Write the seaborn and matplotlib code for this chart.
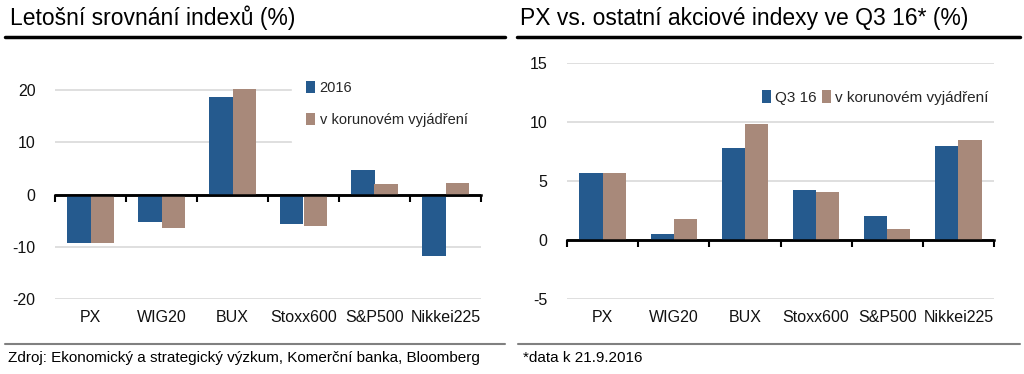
import numpy as np
import pandas as pd
import matplotlib
matplotlib.use("Agg")
import matplotlib.pyplot as plt
import seaborn as sns

# Data
indices = ["PX", "WIG20", "BUX", "Stoxx600", "S&P500", "Nikkei225"]

ytd_2016 = [-9.3, -5.3, 18.7, -5.7, 4.7, -11.7]
ytd_czk = [-9.3, -6.4, 20.2, -6.0, 2.0, 2.3]

q3_16 = [5.7, 0.5, 7.8, 4.2, 2.0, 8.0]
q3_czk = [5.7, 1.8, 9.85, 4.05, 0.97, 8.5]

left_series = ["2016", "v korunovém vyjádření"]
right_series = ["Q3 16", "v korunovém vyjádření"]

blue = "#255A8E"
brown = "#A8897A"
grid_col = "#D9D9D9"

sns.set_theme(style="white")
plt.rcParams['font.family'] = ['Liberation Sans', 'DejaVu Sans']


def long_df(a, b, names):
    return pd.DataFrame({
        "index": indices * 2,
        "value": list(a) + list(b),
        "series": [names[0]] * len(indices) + [names[1]] * len(indices),
    })


def style_axes(ax, ylim, yticks):
    ax.set_ylim(*ylim)
    ax.set_xlim(-0.5, len(indices) - 0.5)
    ax.set_yticks(yticks)
    ax.set_yticklabels([str(t) for t in yticks], fontsize=11.5, color="#111111")
    ax.tick_params(axis="x", length=0, labelsize=11.5, colors="#111111", pad=8)
    ax.tick_params(axis="y", length=0, pad=14)
    for t in yticks:
        ax.axhline(t, color=grid_col, lw=1.2, zorder=0)
    for s in ax.spines.values():
        s.set_visible(False)
    ax.set_xlabel("")
    ax.set_ylabel("")
    # zero axis with category-boundary tick marks
    ax.axhline(0, color="black", lw=1.8, zorder=5)
    frac = (0 - ylim[0]) / (ylim[1] - ylim[0])
    sec = ax.secondary_xaxis(frac)
    sec.set_xticks(np.arange(-0.5, len(indices), 1.0))
    sec.set_xticklabels([])
    sec.tick_params(axis="x", direction="out", length=5, width=1.5, color="black")
    sec.spines["bottom"].set_color("black")
    sec.spines["bottom"].set_linewidth(1.8)


fig = plt.figure(figsize=(10.24, 3.74), dpi=100)
W, H = 1024, 374

ax1 = fig.add_axes([55 / W, (H - 299) / H, 426 / W, 235 / H])
ax2 = fig.add_axes([567 / W, (H - 299) / H, 427 / W, 236 / H])

sns.barplot(data=long_df(ytd_2016, ytd_czk, left_series), x="index", y="value",
            hue="series", palette=[blue, brown], width=0.65, saturation=1,
            edgecolor="none", linewidth=0, ax=ax1, zorder=2)
style_axes(ax1, (-20, 25), [-20, -10, 0, 10, 20])
ax1.legend(loc="upper left", bbox_to_anchor=(0.556, 0.99), frameon=True,
           facecolor="white", edgecolor="white", framealpha=1, fancybox=False,
           fontsize=10.5, handlelength=0.6, handleheight=0.9,
           handletextpad=0.3, labelspacing=1.25, borderpad=1.0,
           borderaxespad=0)

sns.barplot(data=long_df(q3_16, q3_czk, right_series), x="index", y="value",
            hue="series", palette=[blue, brown], width=0.65, saturation=1,
            edgecolor="none", linewidth=0, ax=ax2, zorder=2)
style_axes(ax2, (-5, 15), [-5, 0, 5, 10, 15])
ax2.legend(loc="upper right", bbox_to_anchor=(1.0, 0.91), ncol=2,
           frameon=False, fontsize=11, handlelength=0.6, handleheight=0.9,
           handletextpad=0.2, columnspacing=0.4, borderaxespad=0)

# Titles and rules
fig.text(10 / W, 1 - 18 / H, "Letošní srovnání indexů (%)", fontsize=16.5,
         va="center", ha="left", color="black")
fig.text(520 / W, 1 - 18 / H, "PX vs. ostatní akciové indexy ve Q3 16* (%)",
         fontsize=16.5, va="center", ha="left", color="black")
fig.add_artist(plt.Line2D([5 / W, 505 / W], [1 - 37 / H] * 2, color="black", lw=2.5))
fig.add_artist(plt.Line2D([517 / W, 1020 / W], [1 - 37 / H] * 2, color="black", lw=2.5))

# Footer
fig.add_artist(plt.Line2D([5 / W, 505 / W], [1 - 344 / H] * 2, color="#808080", lw=1.5))
fig.add_artist(plt.Line2D([518 / W, 1020 / W], [1 - 344 / H] * 2, color="#808080", lw=1.5))
fig.text(8 / W, 1 - 358 / H,
         "Zdroj: Ekonomický a strategický výzkum, Komerční banka, Bloomberg",
         fontsize=11, va="center", ha="left", color="black")
fig.text(523 / W, 1 - 358 / H, "*data k 21.9.2016", fontsize=11,
         va="center", ha="left", color="black")

fig.savefig("out.png", dpi=100, facecolor="white")
